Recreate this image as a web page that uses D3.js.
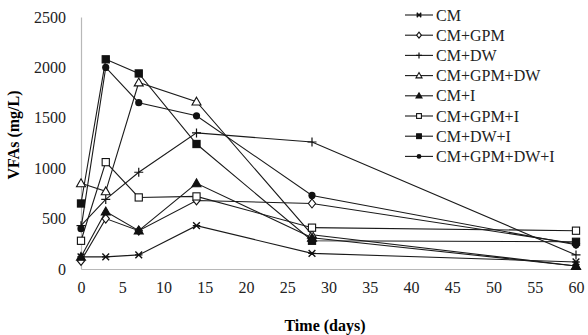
<!DOCTYPE html>
<html><head><meta charset="utf-8">
<script src="https://cdnjs.cloudflare.com/ajax/libs/d3/7.8.5/d3.min.js"></script>
<style>body{margin:0;background:#fff}svg{display:block}svg text{font-family:"Liberation Serif","Times New Roman",serif !important}</style>
</head><body><svg id="c" width="588" height="335"></svg>
<script>
const days = [0, 3, 7, 14, 28, 60];
const seriesNames = ["CM","CM+GPM","CM+DW","CM+GPM+DW","CM+I","CM+GPM+I","CM+DW+I","CM+GPM+DW+I"];
const markers = ["asterisk","diamondOpen","plus","triangleOpen","triangleFilled","squareOpen","squareFilled","circleFilled"];
const vCM        = [120, 120, 140, 430, 155, 70];
const vCMGPM     = [80, 500, 380, 680, 650, 250];
const vCMDW      = [430, 690, 960, 1350, 1260, 140];
const vCMGPMDW   = [850, 770, 1850, 1660, 340, 30];
const vCMI       = [120, 570, 380, 850, 310, 30];
const vCMGPMI    = [280, 1060, 710, 720, 410, 380];
const vCMDWI     = [650, 2080, 1940, 1240, 280, 270];
const vCMGPMDWI  = [400, 2000, 1650, 1520, 730, 240];
const allValues = [vCM, vCMGPM, vCMDW, vCMGPMDW, vCMI, vCMGPMI, vCMDWI, vCMGPMDWI];
const xTicks = [0,5,10,15,20,25,30,35,40,45,50,55,60];
const yTicks = [0,500,1000,1500,2000,2500];

const svg = d3.select("#c");
const x = d3.scaleLinear().domain([0,60]).range([81,576]);
const y = d3.scaleLinear().domain([0,2500]).range([269,17]);
const serif = "Liberation Serif, Times New Roman, serif";

// axes
const xa = svg.append("g").attr("transform","translate(0,269)")
  .call(d3.axisBottom(x).tickValues(xTicks).tickSize(0).tickPadding(13).tickFormat(d3.format("d")));
const ya = svg.append("g").attr("transform","translate(81,0)")
  .call(d3.axisLeft(y).tickValues(yTicks).tickSize(0).tickPadding(15).tickFormat(d3.format("d")));
[xa,ya].forEach(a=>{
  a.attr("font-family",serif).attr("font-size",16);
  a.select(".domain").attr("stroke","#b8b8b8").attr("stroke-width",1.2);
  a.selectAll("text").style("font-family",serif).attr("font-size",16).attr("fill","#222");
});

svg.append("text").attr("x",325).attr("y",331).attr("text-anchor","middle")
  .style("font-family",serif).attr("font-weight","bold").attr("font-size",16).text("Time  (days)");
svg.append("text").attr("transform","translate(19,135) rotate(-90)").attr("text-anchor","middle")
  .style("font-family",serif).attr("font-weight","bold").attr("font-size",16).text("VFAs (mg/L)");

function drawMarker(g, type, cx, cy, s){
  const c="#111";
  if(type==="asterisk"){
    const r=s*0.75;
    g.append("path").attr("d",`M${cx-r},${cy-r}L${cx+r},${cy+r}M${cx-r},${cy+r}L${cx+r},${cy-r}M${cx-r*1.1},${cy}L${cx+r*1.1},${cy}`)
      .attr("stroke",c).attr("stroke-width",1.4);
  } else if(type==="plus"){
    g.append("path").attr("d",`M${cx-s},${cy}L${cx+s},${cy}M${cx},${cy-s}L${cx},${cy+s}`).attr("stroke",c).attr("stroke-width",1.2);
  } else if(type==="diamondOpen"){
    g.append("path").attr("d",`M${cx},${cy-s}L${cx+s*0.8},${cy}L${cx},${cy+s}L${cx-s*0.8},${cy}Z`).attr("fill","#fff").attr("stroke",c).attr("stroke-width",1.1);
  } else if(type==="triangleOpen"||type==="triangleFilled"){
    g.append("path").attr("d",`M${cx},${cy-s}L${cx+s},${cy+s*0.75}L${cx-s},${cy+s*0.75}Z`)
      .attr("fill",type==="triangleOpen"?"#fff":c).attr("stroke",c).attr("stroke-width",1.1);
  } else if(type==="squareOpen"||type==="squareFilled"){
    g.append("rect").attr("x",cx-s*0.8).attr("y",cy-s*0.8).attr("width",s*1.6).attr("height",s*1.6)
      .attr("fill",type==="squareOpen"?"#fff":c).attr("stroke",c).attr("stroke-width",1.1);
  } else if(type==="circleFilled"){
    g.append("circle").attr("cx",cx).attr("cy",cy).attr("r",s*0.8).attr("fill",c);
  }
}

const line = d3.line().x((d,i)=>x(days[i])).y(d=>y(d));
const plot = svg.append("g");
allValues.forEach((vals,k)=>{
  plot.append("path").attr("d",line(vals)).attr("fill","none").attr("stroke","#1a1a1a").attr("stroke-width",1.1);
});
allValues.forEach((vals,k)=>{
  const g = plot.append("g");
  vals.forEach((v,i)=>drawMarker(g, markers[k], x(days[i]), y(v), 4.5));
});

// legend
const lg = svg.append("g");
seriesNames.forEach((n,i)=>{
  const yy = 15 + i*20.2;
  lg.append("line").attr("x1",405).attr("x2",433).attr("y1",yy).attr("y2",yy).attr("stroke","#1a1a1a").attr("stroke-width",1.1);
  drawMarker(lg, markers[i], 419, yy, 3);
  lg.append("text").attr("x",436).attr("y",yy+5.5).style("font-family",serif).attr("font-size",16).attr("fill","#222").text(n);
});
</script></body></html>
